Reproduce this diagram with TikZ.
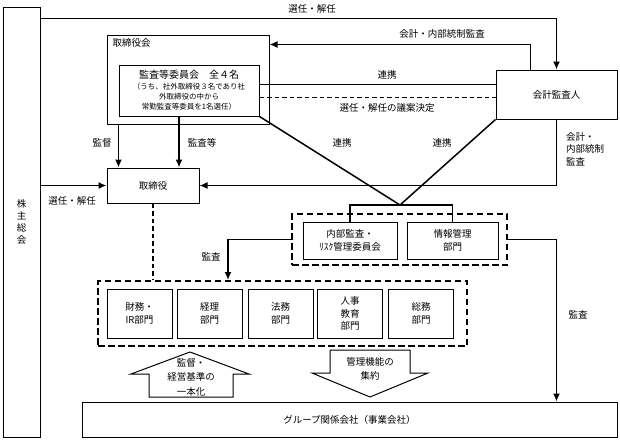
\documentclass[tikz,border=0pt]{standalone}
\usepackage{fontspec}
\setmainfont{Noto Sans CJK JP}
\usetikzlibrary{shapes,arrows.meta,calc}
\tikzstyle{box} = [rectangle, draw, line width=1pt, text centered,
	inner sep=0pt, align=center, font=\fontsize{9.5}{12.5}\selectfont]
\tikzstyle{dept} = [box, minimum width=65, minimum height=49]
\tikzstyle{grp} = [rectangle, draw, line width=2pt,
	dash pattern=on 6.5pt off 3.5pt]
\tikzstyle{line} = [draw, line width=1.5pt, -{Latex[length=8pt,width=7pt]}]
\tikzstyle{link} = [draw, line width=1.5pt]
\tikzstyle{dline} = [draw, line width=1.5pt, dash pattern=on 4.5pt off 3pt]
\tikzstyle{lbl} = [inner sep=1pt, align=center, font=\fontsize{9.5}{12.5}\selectfont]
\tikzstyle{blockarrow} = [draw, line width=1pt, fill=white]

\begin{document}
\begin{tikzpicture}[x=1pt, y=-1pt]
	\useasboundingbox (0,0) rectangle (620,439);

	% Place nodes
	\node [box, minimum width=37, minimum height=430,
		font=\fontsize{9.5}{12}\selectfont] (soukai) at (21.5,222) {株\\主\\総\\会};
	\node [box, minimum width=162, minimum height=89] (kai) at (188,79.5) {};
	\node [lbl, anchor=north west] (kaiLbl) at ($(kai.north west)+(5,3)$) {取締役会};
	\node [box, minimum width=140, minimum height=51,
		font=\fontsize{7.5}{10}\selectfont] (iin) at (189,90.5)
		{{\fontsize{10}{12}\selectfont 監査等委員会　全４名}\\[1pt]
		（うち、社外取締役３名であり社\\外取締役の中から\\常勤監査等委員を1名選任）};
	\node [box, minimum width=121, minimum height=49] (kansa) at (556.5,94.5) {会計監査人};
	\node [box, minimum width=92, minimum height=35] (torishimari) at (153,185.5) {取締役};

	\node [grp, minimum width=215, minimum height=51] (grp1) at (399.5,239.5) {};
	\node [box, minimum width=94, minimum height=37] (naibu) at (350,240.5) {内部監査・\\ﾘｽｸ管理委員会};
	\node [box, minimum width=91, minimum height=37] (jouhou) at (452.5,240.5) {情報管理\\部門};

	\node [grp, minimum width=369, minimum height=65] (grp2) at (282.5,313.5) {};
	\node [dept] (zaimu) at (139.5,313.5) {財務・\\IR部門};
	\node [dept] (keiri) at (209.5,313.5) {経理\\部門};
	\node [dept] (houmu) at (280.5,313.5) {法務\\部門};
	\node [dept] (jinji) at (350,313.5) {人事\\教育\\部門};
	\node [dept] (soumu) at (421,313.5) {総務\\部門};

	\node [box, minimum width=535, minimum height=35] (group) at (349.5,419.5) {グループ関係会社（事業会社）};

	% Block arrows
	\draw [blockarrow] (149,397) -- (149,374) -- (131,374) -- (190,352) -- (249,374)
		-- (233,374) -- (233,397) -- cycle;
	\node [lbl, font=\fontsize{9.5}{14.5}\selectfont] (ittai) at (191,377) {監督・\\経営基準の\\一本化};
	\draw [blockarrow] (330,350) -- (410,350) -- (410,373) -- (428,373) -- (370,397)
		-- (312,373) -- (330,373) -- cycle;
	\node [lbl, font=\fontsize{9.5}{14}\selectfont] (shuyaku) at (370,369) {管理機能の\\集約};

	% Draw edges
	\path [line] ($(soukai.north east)+(0,12)$) -| (kansa.north);
	\path [line] ($(kansa.north west)+(35,0)$) |- ($(kai.north east)+(0,10)$);
	\path [link] ($(iin.north east)+(0,20)$) -- ($(kansa.north west)+(0,15)$);
	\path [dline] ($(iin.north east)+(0,33)$) -- ($(kansa.north west)+(0,28)$);
	\path [line] (kansa.south) |- (torishimari.east);
	\path [line] (soukai.east |- torishimari.west) -- (torishimari.west);
	\path [line] ($(kai.south west)+(12,0)$) -- ($(torishimari.north west)+(12,0)$);
	\path [line] ($(iin.south)+(-10,0)$) coordinate (kt) -- (kt |- torishimari.north);
	\coordinate (apex) at (400,205);
	\path [link] (iin.south east) -- (apex) -- (kansa.south west);
	\path [link] (naibu.north) -- (naibu.north |- apex) -- (jouhou.north |- apex) -- (jouhou.north);
	\path [line] (grp1.west) -| ($(grp2.north west)+(131,0)$);
	\path [line] (grp1.east) -| ($(group.north west)+(475,0)$);
	\path [dline] (torishimari.south) -- (torishimari.south |- grp2.north);

	% Labels
	\node [lbl] (senninTop) at (312,9) {選任・解任};
	\node [lbl] (kaikeiTop) at (442,34) {会計・内部統制監査};
	\node [lbl] (renkei1) at (387,75) {連携};
	\node [lbl] (giann) at (387,108) {選任・解任の議案決定};
	\node [lbl, anchor=north west, align=left] (kaikeiSide) at (565,131) {会計・\\内部統制\\監査};
	\node [lbl] (kantoku) at (102,143) {監督};
	\node [lbl] (kansatou) at (202,143) {監査等};
	\node [lbl] (renkei2) at (342,143) {連携};
	\node [lbl] (renkei3) at (442,143) {連携};
	\node [lbl] (senninLeft) at (72,201) {選任・解任};
	\node [lbl] (kansaLeft) at (211,257) {監査};
	\node [lbl] (kansaRight) at (578,315) {監査};
\end{tikzpicture}
\end{document}
